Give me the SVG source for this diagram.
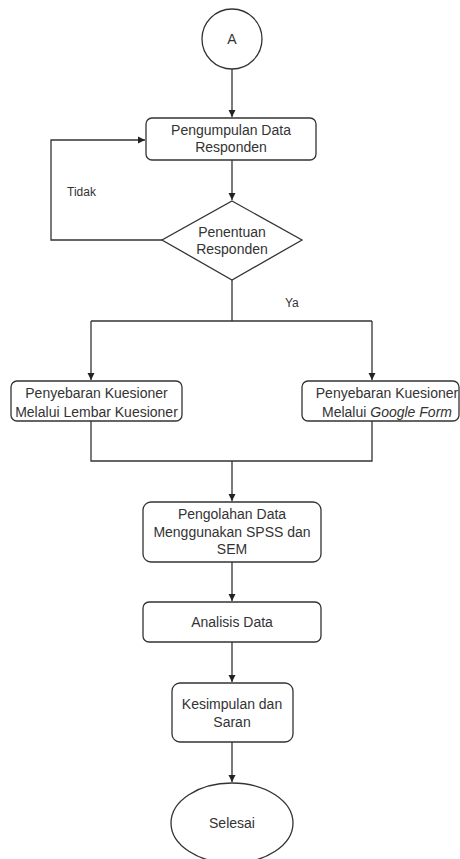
<svg xmlns="http://www.w3.org/2000/svg" width="460" height="859" viewBox="0 0 460 859">
<style>
.n{fill:#fff;stroke:#333;stroke-width:1.3}
.t{font-family:"Liberation Sans",Arial,sans-serif;font-size:14px;fill:#333;text-anchor:middle}
.l{font-family:"Liberation Sans",Arial,sans-serif;font-size:12px;fill:#333}
.c{fill:none;stroke:#333;stroke-width:1.3}
</style>
<defs>
<marker id="ah" markerWidth="8" markerHeight="8" refX="7" refY="4" orient="auto" markerUnits="userSpaceOnUse">
<path d="M0,0.5 L7,4 L0,7.5 Z" fill="#222"/>
</marker>
</defs>
<rect width="460" height="859" fill="#fff"/>
<g id="connectors">
<path class="c" d="M232,69 V117" marker-end="url(#ah)"/>
<path class="c" d="M232,160 V200" marker-end="url(#ah)"/>
<path class="c" d="M162,240 H51 V140 H145" marker-end="url(#ah)"/>
<path class="c" d="M232,280 V321"/>
<path class="c" d="M91,321 H372"/>
<path class="c" d="M91,321 V380" marker-end="url(#ah)"/>
<path class="c" d="M372,321 V380" marker-end="url(#ah)"/>
<path class="c" d="M91,421 V461 H372 V421"/>
<path class="c" d="M232,461 V501" marker-end="url(#ah)"/>
<path class="c" d="M232,562 V601" marker-end="url(#ah)"/>
<path class="c" d="M232,642 V682" marker-end="url(#ah)"/>
<path class="c" d="M232,742 V782" marker-end="url(#ah)"/>
<text class="l" x="67" y="196">Tidak</text>
<text class="l" x="285" y="307">Ya</text>
</g>
<g id="start">
<circle class="n" cx="232" cy="39" r="30"/>
<text class="t" x="232" y="44">A</text>
</g>
<g id="pengumpulan">
<rect class="n" x="146" y="118" width="170" height="42" rx="6"/>
<text class="t" x="231" y="135">Pengumpulan Data</text>
<text class="t" x="231" y="152">Responden</text>
</g>
<g id="penentuan">
<path class="n" d="M232,201 L302,240 L232,280 L162,240 Z"/>
<text class="t" x="232" y="237">Penentuan</text>
<text class="t" x="232" y="254">Responden</text>
</g>
<g id="lembar">
<rect class="n" x="11" y="381" width="171" height="40" rx="6"/>
<text class="t" x="96.5" y="398">Penyebaran Kuesioner</text>
<text class="t" x="96.5" y="417">Melalui Lembar Kuesioner</text>
</g>
<g id="google">
<rect class="n" x="302" y="381" width="157" height="40" rx="6"/>
<text class="t" x="387" y="398">Penyebaran Kuesioner</text>
<text class="t" x="387" y="417">Melalui <tspan font-style="italic">Google Form</tspan></text>
</g>
<g id="pengolahan">
<rect class="n" x="143" y="502" width="178" height="60" rx="8"/>
<text class="t" x="232" y="519">Pengolahan Data</text>
<text class="t" x="232" y="537">Menggunakan SPSS dan</text>
<text class="t" x="232" y="554">SEM</text>
</g>
<g id="analisis">
<rect class="n" x="143" y="602" width="178" height="40" rx="6"/>
<text class="t" x="232" y="627">Analisis Data</text>
</g>
<g id="kesimpulan">
<rect class="n" x="172" y="683" width="121" height="59" rx="8"/>
<text class="t" x="232" y="709">Kesimpulan dan</text>
<text class="t" x="232" y="727">Saran</text>
</g>
<g id="selesai">
<ellipse class="n" cx="232" cy="823" rx="61" ry="40"/>
<text class="t" x="232" y="828">Selesai</text>
</g>
</svg>
